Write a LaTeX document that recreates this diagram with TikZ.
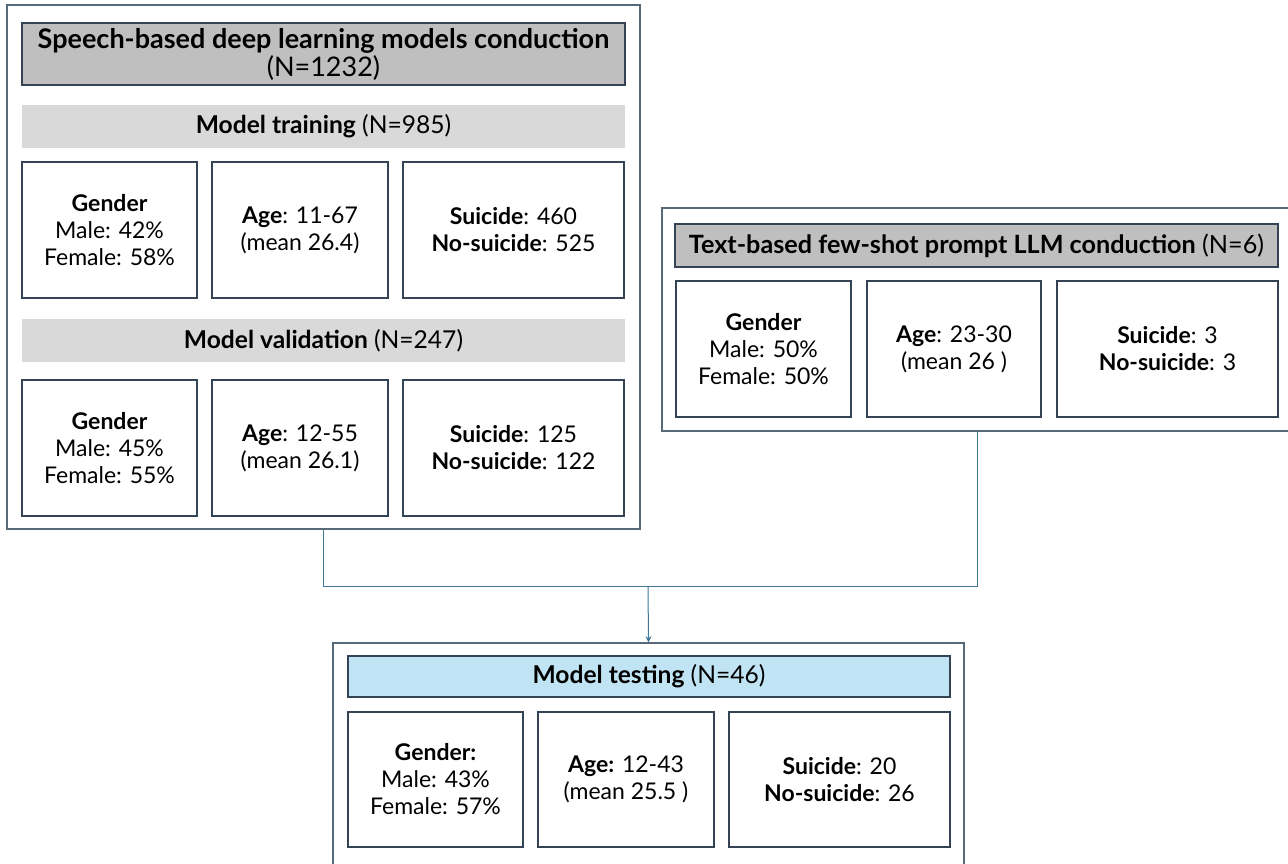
\documentclass[tikz,border=0pt]{standalone}
\usepackage{fontspec}
\setmainfont{Lato}
\usetikzlibrary{arrows.meta}
\definecolor{framegray}{RGB}{88,106,120}
\definecolor{edgeslate}{RGB}{52,68,84}
\definecolor{headgray}{RGB}{191,191,191}
\definecolor{bargray}{RGB}{217,217,217}
\definecolor{testblue}{RGB}{193,228,245}
\definecolor{linkblue}{RGB}{62,120,150}
\newcommand{\cell}[7]{
\node[#6, minimum width={0.5pt*(#4-#2)}, minimum height={0.5pt*(#5-#3)}] (#1) at ({(#2+#4)/2},{(#3+#5)/2}) {#7};
}

\begin{document}
\begin{tikzpicture}[x=0.5pt, y=-0.5pt,
    outerframe/.style={draw=framegray, line width=0.7pt, inner sep=0pt},
    headbar/.style={draw=edgeslate, fill=headgray, line width=0.6pt, inner sep=0pt, align=center, font=\fontsize{12.6}{14}\selectfont},
    subbar/.style={fill=bargray, inner sep=0pt, align=center, font=\fontsize{12.3}{14}\selectfont},
    testbar/.style={draw=edgeslate, fill=testblue, line width=0.6pt, inner sep=0pt, align=center, font=\fontsize{12.3}{14}\selectfont},
    infobox/.style={draw=edgeslate, line width=0.6pt, inner sep=0pt, align=center, font=\fontsize{11.5}{13.5}\selectfont},
    link/.style={draw=linkblue, line width=0.5pt}]
    \useasboundingbox (0,0) rectangle (1288,863);
    \clip (0,0) rectangle (1288,863);

    % speech-based models
    \cell{speech}{7}{5}{640}{529}{outerframe}{}
    \cell{speechhead}{22}{23}{625}{85}{headbar, font=\fontsize{13.5}{14}\selectfont}{\textbf{Speech-based deep learning models conduction}\\(N=1232)}
    \cell{trainbar}{22}{105}{625}{148}{subbar}{\textbf{Model training} (N=985)}
    \cell{traingender}{22}{162}{197}{298}{infobox}{\textbf{Gender}\\Male: 42\%\\Female: 58\%}
    \cell{trainage}{212}{162}{388}{298}{infobox}{\textbf{Age}: 11-67\\(mean 26.4)}
    \cell{trainsuicide}{403}{162}{624}{298}{infobox}{\textbf{Suicide}: 460\\\textbf{No-suicide}: 525}
    \cell{valbar}{22}{319}{625}{362}{subbar}{\textbf{Model validation} (N=247)}
    \cell{valgender}{22}{380}{197}{516}{infobox}{\textbf{Gender}\\Male: 45\%\\Female: 55\%}
    \cell{valage}{212}{380}{388}{516}{infobox}{\textbf{Age}: 12-55\\(mean 26.1)}
    \cell{valsuicide}{403}{380}{624}{516}{infobox}{\textbf{Suicide}: 125\\\textbf{No-suicide}: 122}

    % text-based LLM
    \cell{llm}{662}{208}{1292}{431}{outerframe}{}
    \cell{llmhead}{675}{224}{1278}{267}{headbar}{\textbf{Text-based few-shot prompt LLM conduction} (N=6)}
    \cell{llmgender}{676}{281}{851}{417}{infobox}{\textbf{Gender}\\Male: 50\%\\Female: 50\%}
    \cell{llmage}{867}{281}{1041}{417}{infobox}{\textbf{Age}: 23-30\\(mean 26 )}
    \cell{llmsuicide}{1057}{281}{1278}{417}{infobox}{\textbf{Suicide}: 3\\\textbf{No-suicide}: 3}

    % testing
    \cell{test}{333}{643}{964}{900}{outerframe}{}
    \cell{testhead}{348}{656}{950}{697}{testbar}{\textbf{Model testing} (N=46)}
    \cell{testgender}{348}{712}{523}{847}{infobox}{\textbf{Gender:}\\Male: 43\%\\Female: 57\%}
    \cell{testage}{538}{712}{714}{847}{infobox}{\textbf{Age:} 12-43\\(mean 25.5 )}
    \cell{testsuicide}{729}{712}{950}{847}{infobox}{\textbf{Suicide}: 20\\\textbf{No-suicide}: 26}

    \coordinate (join) at (648,586);
    \draw[link] (speech.south) |- (join) -| (llm.south);
    \draw[link, -{Stealth[length=3pt, width=3pt]}] (join) -- (test.north);
\end{tikzpicture}
\end{document}
